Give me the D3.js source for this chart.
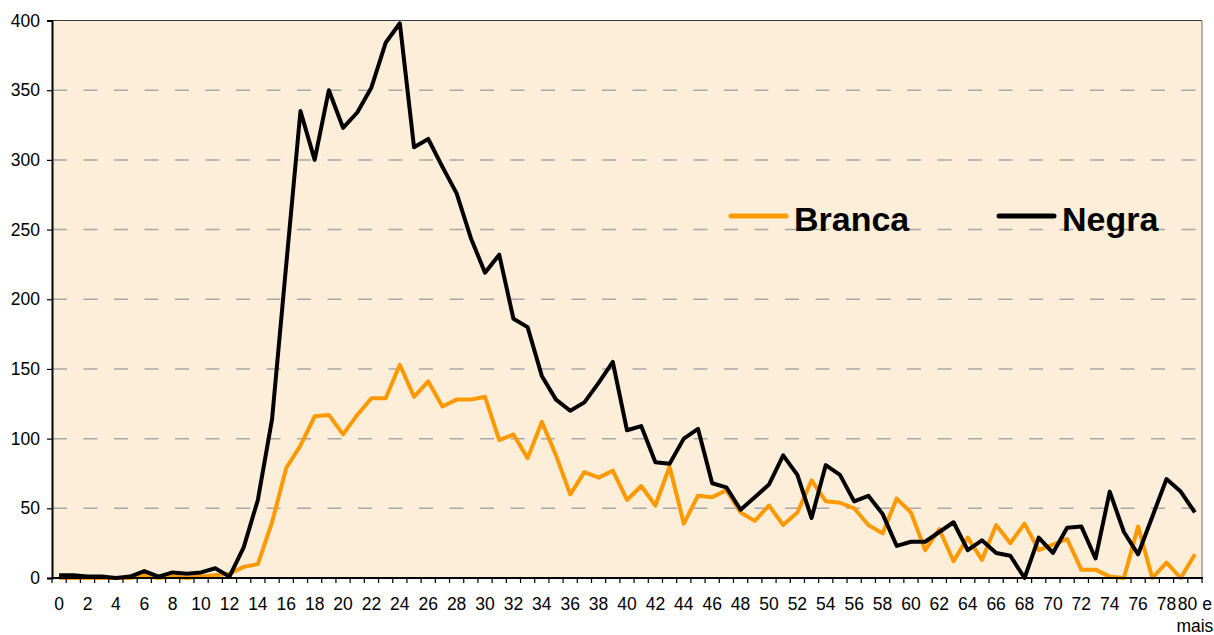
<!DOCTYPE html>
<meta charset="utf-8">
<style>

body { margin: 0; background: #fff; }

svg text {
  font-family: "Liberation Sans", Arial, sans-serif;
  fill: #000;
}

.grid line {
  stroke: #a8a8a8;
  stroke-width: 1.5px;
  stroke-dasharray: 14, 16.5;
}

.series path {
  fill: none;
  stroke-width: 4px;
  stroke-linejoin: round;
}

</style>
<svg width="1214" height="635"></svg>
<script src="https://d3js.org/d3.v7.min.js"></script>
<script>

var categories = ["0","1","2","3","4","5","6","7","8","9",
  "10","11","12","13","14","15","16","17","18","19",
  "20","21","22","23","24","25","26","27","28","29",
  "30","31","32","33","34","35","36","37","38","39",
  "40","41","42","43","44","45","46","47","48","49",
  "50","51","52","53","54","55","56","57","58","59",
  "60","61","62","63","64","65","66","67","68","69",
  "70","71","72","73","74","75","76","77","78","79",
  "80 e mais"];

var branca = [0, 0, 0, 0, 0, 0, 2, 0, 1, 0,
  1, 2, 3, 8, 10, 40, 79, 95, 116, 117,
  103, 117, 129, 129, 153, 130, 141, 123, 128, 128,
  130, 99, 103, 86, 112, 88, 60, 76, 72, 77,
  56, 66, 52, 80, 39, 59, 58, 63, 47, 41,
  52, 38, 47, 70, 55, 54, 50, 38, 32, 57,
  47, 20, 35, 12, 29, 13, 38, 25, 39, 20,
  24, 28, 6, 6, 1, 0, 37, 0, 11, 0,
  17];

var negra = [2, 2, 1, 1, 0, 1, 5, 1, 4, 3,
  4, 7, 1, 22, 56, 114, 225, 335, 300, 350,
  323, 334, 352, 384, 398, 309, 315, 295, 276, 244,
  219, 232, 186, 180, 145, 128, 120, 126, 140, 155,
  106, 109, 83, 82, 100, 107, 68, 65, 49, 58,
  67, 88, 74, 43, 81, 74, 55, 59, 46, 23,
  26, 26, 33, 40, 20, 27, 18, 16, 0, 29,
  18, 36, 37, 14, 62, 33, 17, 44, 71, 62,
  47];

var yTicks = [0, 50, 100, 150, 200, 250, 300, 350, 400];

var seriesNames = ["Branca", "Negra"];
var seriesColors = ["#ff9900", "#000000"];

var svg = d3.select("svg"),
    plotLeft = 52, plotRight = 1202, plotTop = 20.5, plotBottom = 578;

var x = d3.scaleBand()
    .domain(categories)
    .range([plotLeft, plotRight])
    .padding(0);

var y = d3.scaleLinear()
    .domain([0, 400])
    .range([plotBottom, plotTop]);

var cx = function(c) { return x(c) + x.bandwidth() / 2; };

// plot background
svg.append("rect")
    .attr("x", plotLeft)
    .attr("y", plotTop)
    .attr("width", plotRight - plotLeft)
    .attr("height", plotBottom - plotTop)
    .attr("fill", "#fdeed9");

// dashed grid
svg.append("g")
    .attr("class", "grid")
  .selectAll("line")
  .data(yTicks.filter(function(d) { return d > 0 && d < 400; }))
  .enter().append("line")
    .attr("x1", plotLeft + 1)
    .attr("x2", plotRight)
    .attr("y1", function(d) { return y(d); })
    .attr("y2", function(d) { return y(d); });

// top and right border
svg.append("line")
    .attr("x1", plotLeft).attr("x2", plotRight)
    .attr("y1", y(400)).attr("y2", y(400))
    .attr("stroke", "#3a3a3a").attr("stroke-width", 1.2);
svg.append("line")
    .attr("x1", plotRight).attr("x2", plotRight)
    .attr("y1", plotTop).attr("y2", plotBottom)
    .attr("stroke", "#8c8070").attr("stroke-width", 1.2);

// lines
var series = [branca, negra];
var line = d3.line()
    .x(function(d, i) { return cx(categories[i]); })
    .y(function(d) { return y(d); });

svg.append("g")
    .attr("class", "series")
  .selectAll("path")
  .data(series)
  .enter().append("path")
    .attr("stroke", function(d, i) { return seriesColors[i]; })
    .attr("d", line);

// y axis
var yAxis = svg.append("g")
    .attr("transform", "translate(" + plotLeft + ",0)")
    .call(d3.axisLeft(y).tickValues(yTicks).tickSize(5).tickPadding(7));
yAxis.select(".domain").attr("stroke", "#000").attr("stroke-width", 2);
yAxis.selectAll(".tick line").attr("stroke", "#000").attr("stroke-width", 1.2);
yAxis.selectAll("text")
    .style("font-size", "17.5px")
    .style("font-family", "'Liberation Sans', Arial, sans-serif");

// x axis: ticks on band edges, labels on every second category
var xg = svg.append("g");
xg.append("line")
    .attr("x1", plotLeft - 1).attr("x2", plotRight + 1)
    .attr("y1", plotBottom).attr("y2", plotBottom)
    .attr("stroke", "#000").attr("stroke-width", 2);

var edges = categories.map(function(c) { return x(c); }).concat([plotRight]);
xg.selectAll(".xtick")
  .data(edges)
  .enter().append("line")
    .attr("class", "xtick")
    .attr("x1", function(d) { return d; })
    .attr("x2", function(d) { return d; })
    .attr("y1", plotBottom)
    .attr("y2", plotBottom + 5)
    .attr("stroke", "#000")
    .attr("stroke-width", 1.2);

var xLabels = xg.selectAll(".xlabel")
  .data(categories.filter(function(c, i) { return i % 2 === 0; }))
  .enter().append("text")
    .attr("class", "xlabel")
    .attr("x", function(d) { return cx(d); })
    .attr("y", 610)
    .attr("text-anchor", "middle")
    .style("font-size", "17.5px");

xLabels.each(function(d) {
  var t = d3.select(this);
  if (d.indexOf(" e ") > 0) {
    var parts = d.split(" e ");
    t.append("tspan").attr("x", cx(d)).text(parts[0] + " e");
    t.append("tspan").attr("x", cx(d)).attr("dy", 22).text(parts[1]);
  } else {
    t.text(d);
  }
});

// legend
var legendX = [731, 999];
var legend = svg.append("g")
  .selectAll("g")
  .data(seriesNames)
  .enter().append("g")
    .attr("transform", function(d, i) { return "translate(" + legendX[i] + ",216)"; });

legend.append("line")
    .attr("x1", 0).attr("x2", 55)
    .attr("stroke", function(d, i) { return seriesColors[i]; })
    .attr("stroke-width", 5)
    .attr("stroke-linecap", "round");

legend.append("text")
    .attr("x", 63)
    .attr("y", 14.5)
    .style("font-size", "34px")
    .style("font-weight", "bold")
    .text(function(d) { return d; });

</script>
